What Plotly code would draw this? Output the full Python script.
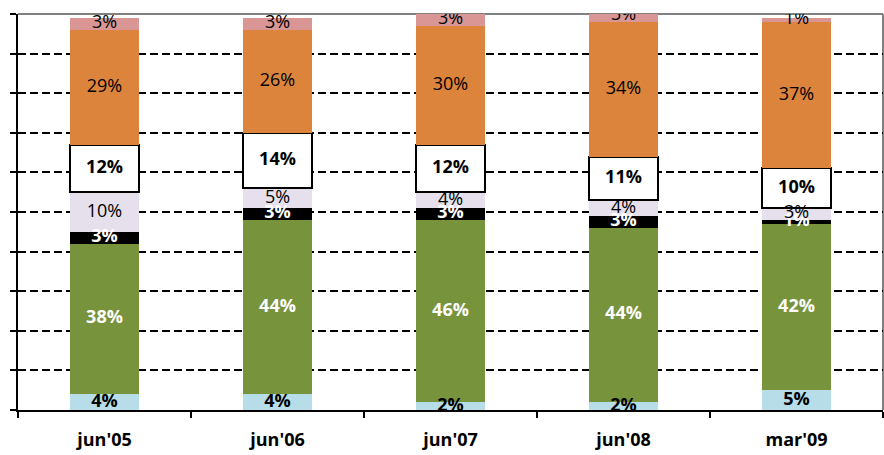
import plotly.graph_objects as go
import numpy as np

categories = ["jun'05", "jun'06", "jun'07", "jun'08", "mar'09"]
light_blue = [4, 4, 2, 2, 5]
green = [38, 44, 46, 44, 42]
black = [3, 3, 3, 3, 1]
lavender = [10, 5, 4, 4, 3]
white = [12, 14, 12, 11, 10]
orange = [29, 26, 30, 34, 37]
pink = [3, 3, 3, 3, 1]

series = [
    (light_blue, "#B7DEE8", None, "black", True),
    (green, "#77933C", None, "white", True),
    (black, "#000000", None, "white", True),
    (lavender, "#E6E0EC", None, "black", False),
    (white, "#FFFFFF", "black", "black", True),
    (orange, "#DD843C", None, "black", False),
    (pink, "#D99694", None, "black", False),
]

FONT = "Open Sans"
fig = go.Figure()
base = np.zeros(len(categories))
label_traces = []
for vals, color, line, tcolor, bold in series:
    v = np.array(vals, dtype=float)
    fig.add_trace(go.Bar(
        x=categories, y=v, marker=dict(color=color,
            line=dict(color=line if line else color, width=2 if line else 0)),
        width=0.4, showlegend=False, hoverinfo="skip"))
    mids = base + v / 2
    texts = [("<b>%d%%</b>" % x) if bold else ("%d%%" % x) for x in vals]
    label_traces.append(go.Scatter(
        x=categories, y=mids, mode="text", text=texts,
        textfont=dict(color=tcolor, size=18, family=FONT),
        showlegend=False, hoverinfo="skip"))
    base = base + v

for t in label_traces:
    fig.add_trace(t)

fig.update_layout(
    barmode="stack",
    width=884, height=455,
    margin=dict(l=18, r=1, t=14, b=45),
    plot_bgcolor="white", paper_bgcolor="white",
    font=dict(family=FONT, color="black"),
    bargap=0.6,
)
fig.update_xaxes(
    showline=True, linecolor="black", linewidth=2,
    ticks="outside", tickson="boundaries", ticklen=6, tickwidth=2, tickcolor="black",
    tickfont=dict(size=18, family=FONT, color="black"),
    tickprefix="<b>", ticksuffix="</b>", ticklabelstandoff=12,
    showgrid=False, fixedrange=True,
)
fig.update_yaxes(
    range=[0, 100], dtick=10, showticklabels=False,
    showline=True, linecolor="black", linewidth=2,
    ticks="outside", ticklen=6, tickwidth=2, tickcolor="black",
    showgrid=True, gridcolor="black", gridwidth=1.5, griddash="8px,4px",
    zeroline=False, fixedrange=True,
)
fig.add_shape(type="line", xref="paper", yref="paper", x0=0, x1=1, y0=1, y1=1,
              line=dict(color="#808080", width=2), layer="below")
fig.add_shape(type="line", xref="paper", yref="paper", x0=1, x1=1, y0=0, y1=1,
              line=dict(color="#808080", width=2), layer="below")
fig.write_html("out.html")
